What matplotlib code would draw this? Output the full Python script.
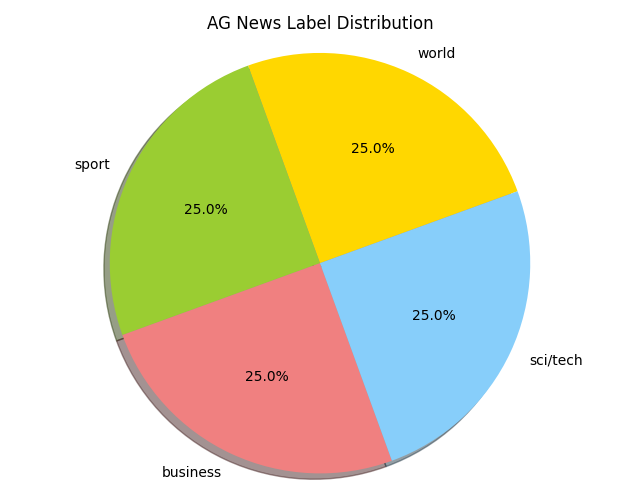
import matplotlib
matplotlib.use('Agg')
import matplotlib.pyplot as plt

# label distribution
labels = ['world', 'sport', 'business', 'sci/tech']
counts = [30000, 30000, 30000, 30000]
colors = ['gold', 'yellowgreen', 'lightcoral', 'lightskyblue']

fig, ax = plt.subplots(figsize=(6.4, 5.04), dpi=100)
ax.pie(counts, labels=labels, colors=colors, autopct='%1.1f%%',
       shadow=True, startangle=20)
plt.axis('equal')
plt.title('AG News Label Distribution')
plt.tight_layout()

# pie in the reference is a touch bigger
y0, y1 = ax.get_ylim()
mid = (y0 + y1) / 2
half = (y1 - y0) / 2 / 1.024
ax.set_ylim(mid - half, mid + half)
plt.savefig('out.png')
